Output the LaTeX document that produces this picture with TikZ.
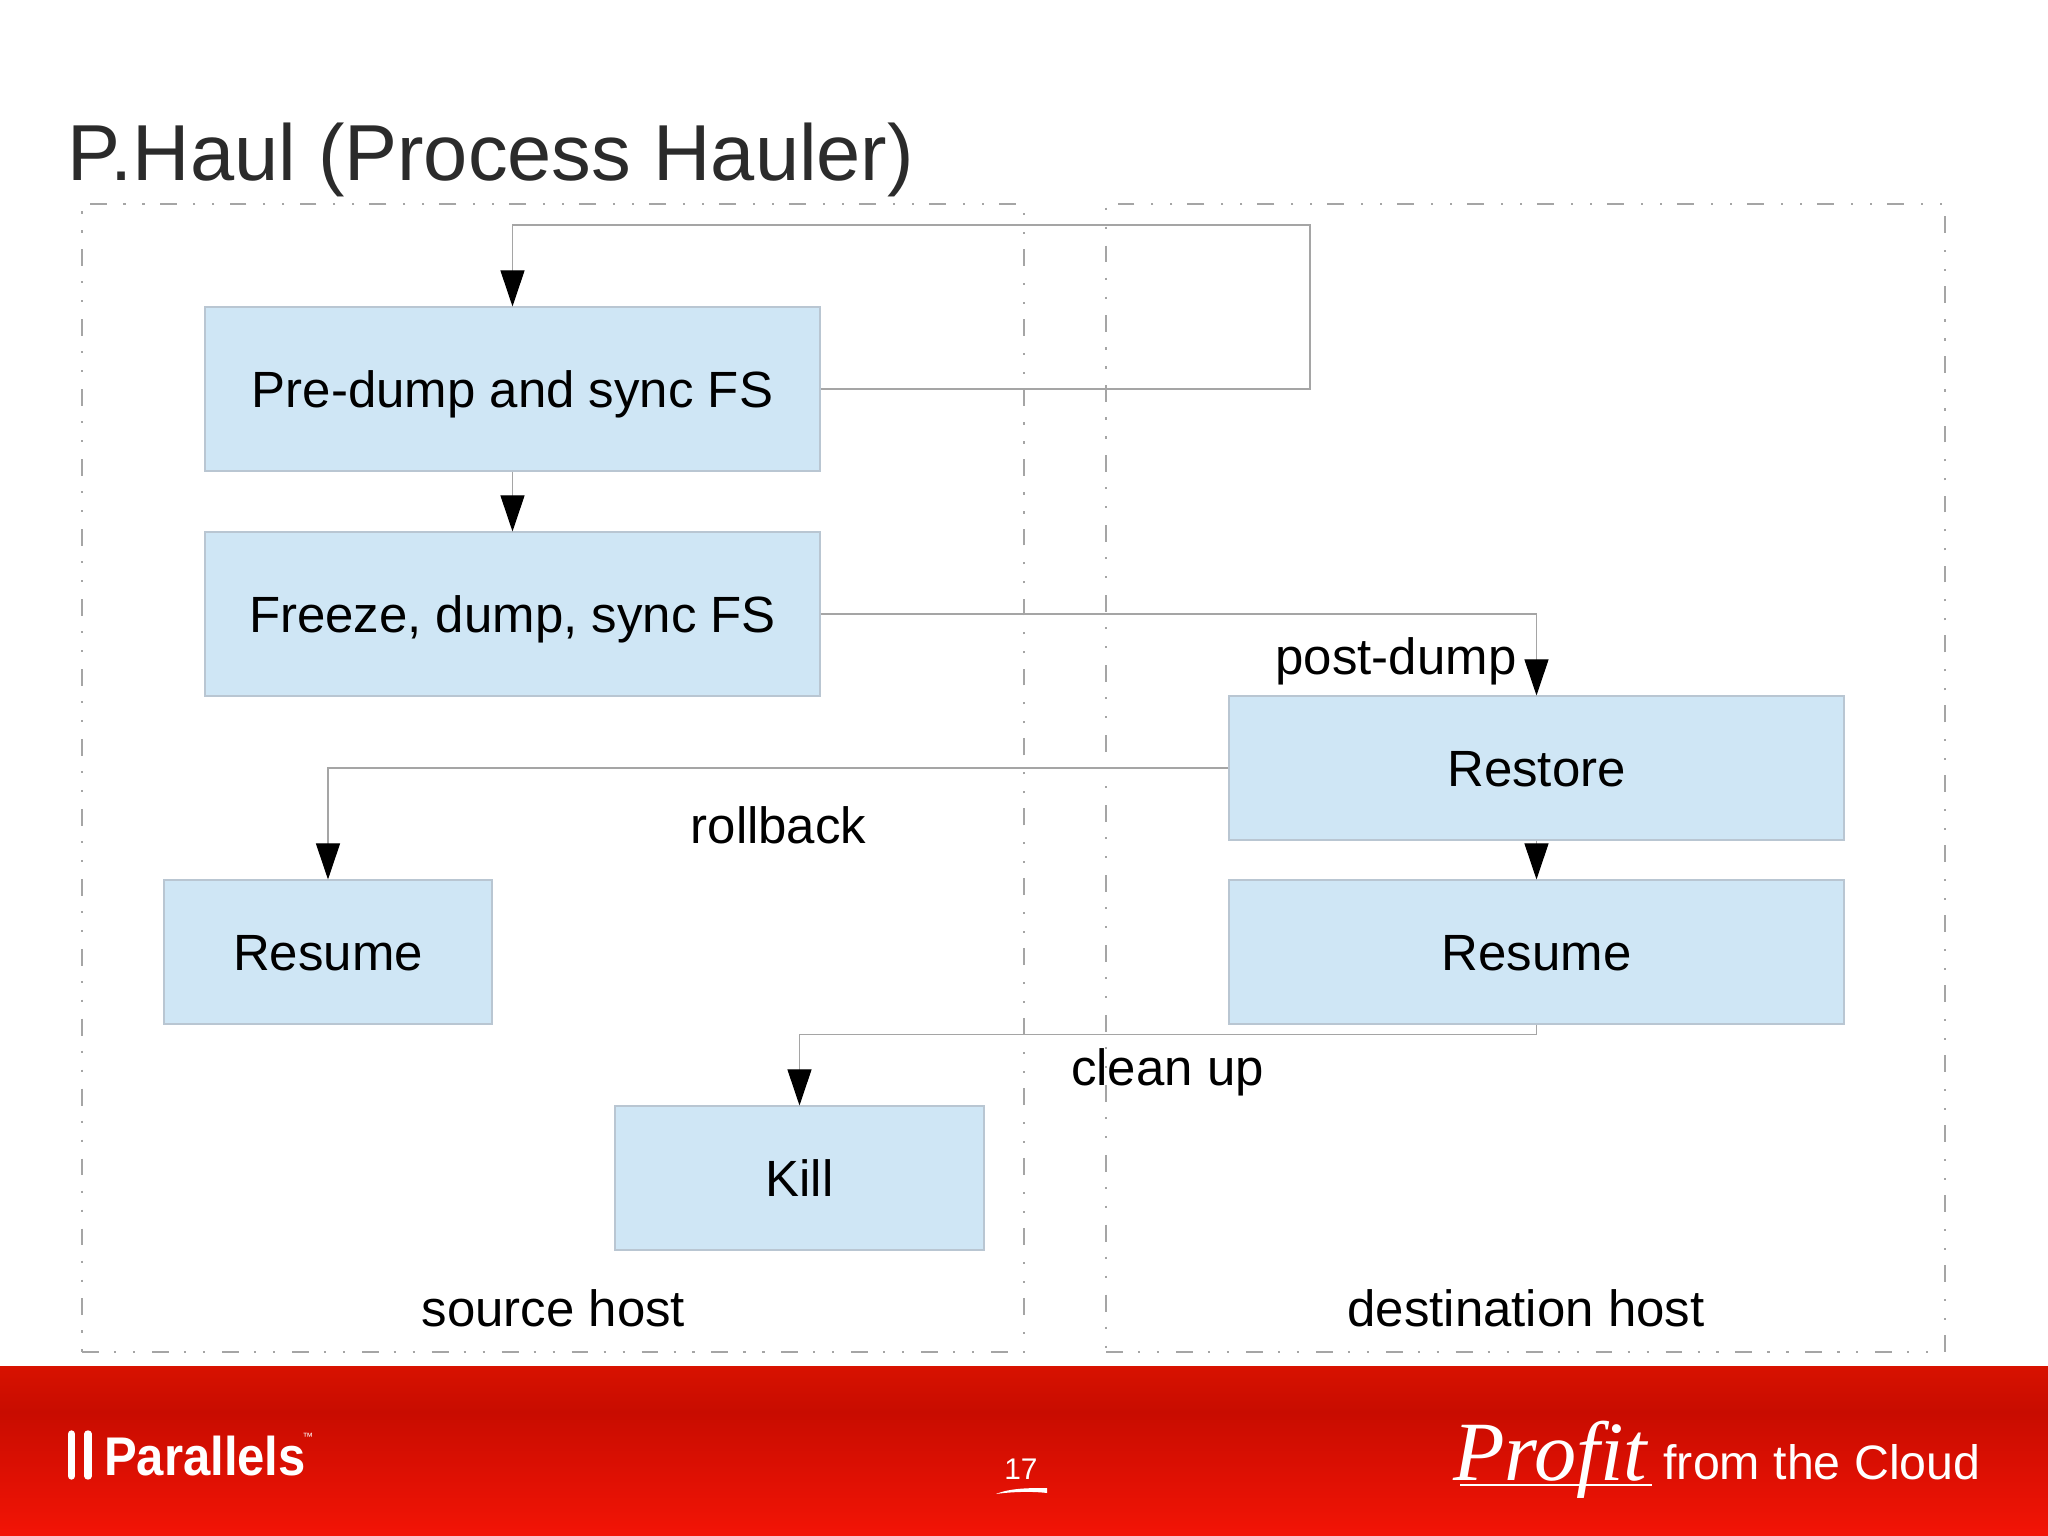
\documentclass[tikz,border=0pt]{standalone}
\usepackage{fontspec}
\setmainfont{Liberation Sans}
\usetikzlibrary{positioning, arrows.meta}
\definecolor{boxfill}{RGB}{207,230,245}
\definecolor{boxline}{RGB}{185,198,210}
\definecolor{wireline}{RGB}{165,165,165}
\definecolor{frameline}{RGB}{165,165,165}
\definecolor{titlegray}{RGB}{43,43,43}
\definecolor{redtop}{RGB}{216,18,0}
\definecolor{redmid}{RGB}{200,12,0}
\definecolor{redlow}{RGB}{243,20,6}
\tikzset{
  task/.style={draw=boxline, fill=boxfill, line width=0.3pt, minimum width=6.15cm, minimum height=1.44cm, text height=10.4pt, text depth=0pt, font=\fontsize{14.5}{17}\selectfont},
  hostframe/.style={draw=frameline, line width=0.3pt, dash pattern=on 4.8pt off 4.3pt on 0.6pt off 4.8pt on 0.6pt off 4.8pt, minimum height=11.48cm},
  lbl/.style={font=\fontsize{14.5}{17}\selectfont, inner sep=0pt},
  wire/.style={draw=wireline, line width=0.3pt, -{Triangle[length=0.36cm, width=0.24cm, black]}},
  foot/.style={text=white, inner sep=0pt}
}
\begin{document}
\begin{tikzpicture}[on grid]
  \useasboundingbox (0,0) rectangle (20.48,-15.36);
  % Footer band
  \shade[top color=redtop, bottom color=redmid] (0,-13.66) rectangle (20.48,-14.12);
  \shade[top color=redmid, bottom color=redlow] (0,-14.12) rectangle (20.48,-15.36);

  \node[inner sep=0pt, text=titlegray, font=\fontsize{22.6}{26}\selectfont] (title) at (4.91,-1.60) {P.Haul (Process Hauler)};

  % Source and destination frames
  \node[hostframe, minimum width=9.42cm] (source) at (5.53,-7.78) {};
  \node[hostframe, minimum width=8.39cm] (dest) [right=9.725cm of source] {};

  % Task boxes
  \node[task, minimum height=1.64cm] (predump) at (5.125,-3.89) {Pre-dump and sync FS};
  \node[task, minimum height=1.64cm] (freeze) [below=2.25cm of predump] {Freeze, dump, sync FS};
  \node[task] (restore) [below right=1.54cm and 10.24cm of freeze] {Restore};
  \node[task] (resumedst) [below=1.84cm of restore] {Resume};
  \node[task, minimum width=3.28cm] (resumesrc) [left=12.085cm of resumedst] {Resume};
  \node[task, minimum width=3.69cm] (kill) [below right=2.26cm and 4.715cm of resumesrc] {Kill};

  % Free corners of the connectors
  \coordinate (loopright) at (13.10,-2.25);
  \coordinate[below=0.10cm of resumedst.south] (cleanturn);

  % Connectors
  \draw[wire] (predump.east) -| (loopright) -| (predump.north);
  \draw[wire] (predump) -- (freeze);
  \draw[wire] (freeze.east) -| (restore.north);
  \draw[wire] (restore.west) -| (resumesrc.north);
  \draw[wire] (restore) -- (resumedst);
  \draw[wire] (resumedst.south) -- (cleanturn) -| (kill.north);

  % Labels
  \node[lbl] (postdump) at (13.96,-6.61) {post-dump};
  \node[lbl] (rollback) at (7.785,-8.25) {rollback};
  \node[lbl] (cleanup) at (11.675,-10.72) {clean up};
  \node[lbl] (sourcelabel) at (5.535,-13.08) {source host};
  \node[lbl] (destlabel) at (15.26,-13.08) {destination host};

  % Footer content
  \draw[white, line width=2.1pt, line cap=round] (0.715,-14.34) -- (0.715,-14.76);
  \draw[white, line width=2.1pt, line cap=round] (0.88,-14.34) -- (0.88,-14.76);
  \node[foot, xscale=0.9, transform shape, font=\bfseries\fontsize{15.5}{18}\selectfont] (parallels) at (2.05,-14.56) {Parallels};
  \node[foot, font=\fontsize{3}{4}\selectfont] (trademark) at (3.08,-14.37) {™};
  \node[foot, font=\fontsize{8.5}{10}\selectfont] (pagenum) at (10.21,-14.69) {17};
  \fill[white] (9.96,-14.94) .. controls (10.1,-14.88) and (10.3,-14.88) .. (10.47,-14.88) -- (10.47,-14.93) .. controls (10.3,-14.91) and (10.1,-14.92) .. (9.96,-14.94);
  \node[foot, font=\itshape\fontsize{24}{28}\selectfont] (profit) at (15.50,-14.60) {\fontspec{Liberation Serif}\itshape Profit};
  \coordinate (profitleft) at (14.60,-14.85);
  \coordinate (profitright) at (16.52,-14.85);
  \draw[white, line width=0.5pt] (profitleft) -- (profitright);
  \node[foot, font=\fontsize{13.75}{16}\selectfont] (cloud) at (18.22,-14.62) {from the Cloud};
\end{tikzpicture}
\end{document}
